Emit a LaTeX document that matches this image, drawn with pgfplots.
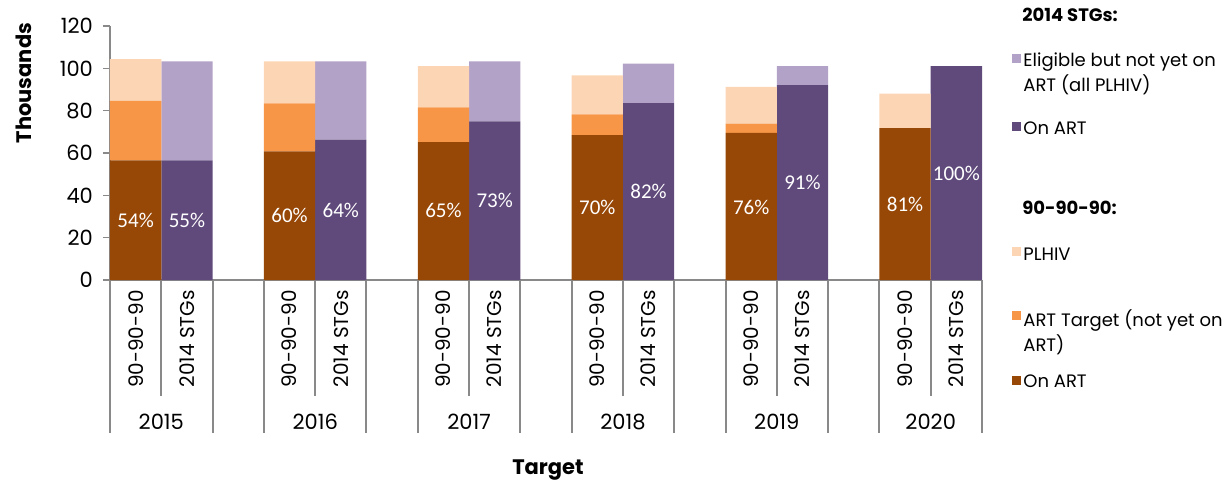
\documentclass[border=0pt]{standalone}
\usepackage{fontspec}
\setmainfont{Poppins}
\newfontfamily\pctfont{Carlito}
\usepackage{pgfplots}
\pgfplotsset{compat=1.18}
\usepackage{pgfplotstable}

\definecolor{onart90}{HTML}{974706}
\definecolor{tgt90}{HTML}{F79646}
\definecolor{plhiv90}{HTML}{FCD5B5}
\definecolor{onstg}{HTML}{604A7B}
\definecolor{eligstg}{HTML}{B3A2C7}
\definecolor{axisgray}{HTML}{898989}

\tikzset{
  pct/.style={text=white, font=\pctfont\fontsize{10.5}{12}\selectfont},
  sep/.style={axisgray, line width=1pt},
  sub/.style={rotate=90, anchor=east, inner sep=0pt, font=\fontsize{10}{12}\selectfont},
  yr/.style={font=\fontsize{10.5}{12}\selectfont},
  leg/.style={anchor=west, inner sep=0pt, align=left, font=\fontsize{9}{12.5}\selectfont},
  leghead/.style={anchor=west, inner sep=0pt, font=\bfseries\fontsize{9}{12}\selectfont},
}

% thousands; 90-90-90 bars at 0,3,...; 2014 STGs bars at 1,4,...
\pgfplotstableread{
x  on90 tgt90 plhiv90 onstg eligstg
0  56.5 28.1  19.7    0     0
1  0    0     0       56.5  46.8
3  60.8 22.7  19.8    0     0
4  0    0     0       66.3  37.0
6  65.1 16.4  19.6    0     0
7  0    0     0       75.0  28.3
9  68.5 9.8   18.4    0     0
10 0    0     0       83.6  18.6
12 69.5 4.4   17.4    0     0
13 0    0     0       92.1  9.0
15 71.7 0     16.3    0     0
16 0    0     0       101.1 0
}\datatable

\begin{document}
\begin{tikzpicture}
\useasboundingbox (-55pt,-106.5pt) rectangle (560pt,140pt);
\begin{axis}[
    at={(0,0)}, anchor=south west,
    scale only axis, width=436pt, height=127pt,
    ybar stacked, bar width=25.65pt,
    xmin=-0.5, xmax=16.5, ymin=0, ymax=120,
    ytick={0,20,...,120}, xtick=\empty,
    axis x line*=bottom, axis y line*=left,
    axis line style={axisgray, line width=1pt, -},
    tick style={axisgray, line width=0.8pt},
    tick align=outside, major tick length=3.5pt,
    yticklabel style={font=\fontsize{10.5}{12}\selectfont, xshift=-1.5pt},
    /pgf/number format/assume math mode=true,
    clip=false,
]
\addplot[fill=onart90, draw=none] table[x=x, y=on90] {\datatable};
\addplot[fill=tgt90, draw=none] table[x=x, y=tgt90] {\datatable};
\addplot[fill=plhiv90, draw=none] table[x=x, y=plhiv90] {\datatable};
\addplot[fill=onstg, draw=none] table[x=x, y=onstg] {\datatable};
\addplot[fill=eligstg, draw=none] table[x=x, y=eligstg] {\datatable};

% category frame under the axis
\draw[sep] (axis cs:-0.5,0) -- (axis cs:-0.5,-72.3);
\draw[sep] (axis cs:0.5,0) -- (axis cs:0.5,-54.8);
\draw[sep] (axis cs:1.5,0) -- (axis cs:1.5,-72.3);
\draw[sep] (axis cs:2.5,0) -- (axis cs:2.5,-72.3);
\draw[sep] (axis cs:3.5,0) -- (axis cs:3.5,-54.8);
\draw[sep] (axis cs:4.5,0) -- (axis cs:4.5,-72.3);
\draw[sep] (axis cs:5.5,0) -- (axis cs:5.5,-72.3);
\draw[sep] (axis cs:6.5,0) -- (axis cs:6.5,-54.8);
\draw[sep] (axis cs:7.5,0) -- (axis cs:7.5,-72.3);
\draw[sep] (axis cs:8.5,0) -- (axis cs:8.5,-72.3);
\draw[sep] (axis cs:9.5,0) -- (axis cs:9.5,-54.8);
\draw[sep] (axis cs:10.5,0) -- (axis cs:10.5,-72.3);
\draw[sep] (axis cs:11.5,0) -- (axis cs:11.5,-72.3);
\draw[sep] (axis cs:12.5,0) -- (axis cs:12.5,-54.8);
\draw[sep] (axis cs:13.5,0) -- (axis cs:13.5,-72.3);
\draw[sep] (axis cs:14.5,0) -- (axis cs:14.5,-72.3);
\draw[sep] (axis cs:15.5,0) -- (axis cs:15.5,-54.8);
\draw[sep] (axis cs:16.5,0) -- (axis cs:16.5,-72.3);

\node[sub] at (axis cs:0,-4.7) {90-90-90};
\node[sub] at (axis cs:1,-4.7) {2014 STGs};
\node[sub] at (axis cs:3,-4.7) {90-90-90};
\node[sub] at (axis cs:4,-4.7) {2014 STGs};
\node[sub] at (axis cs:6,-4.7) {90-90-90};
\node[sub] at (axis cs:7,-4.7) {2014 STGs};
\node[sub] at (axis cs:9,-4.7) {90-90-90};
\node[sub] at (axis cs:10,-4.7) {2014 STGs};
\node[sub] at (axis cs:12,-4.7) {90-90-90};
\node[sub] at (axis cs:13,-4.7) {2014 STGs};
\node[sub] at (axis cs:15,-4.7) {90-90-90};
\node[sub] at (axis cs:16,-4.7) {2014 STGs};

\node[yr] at (axis cs:0.5,-67.1) {2015};
\node[yr] at (axis cs:3.5,-67.1) {2016};
\node[yr] at (axis cs:6.5,-67.1) {2017};
\node[yr] at (axis cs:9.5,-67.1) {2018};
\node[yr] at (axis cs:12.5,-67.1) {2019};
\node[yr] at (axis cs:15.5,-67.1) {2020};

% anchor points for the percentage labels (drawn after the bars)
\coordinate (p1) at (axis cs:0,28);
\coordinate (p2) at (axis cs:1,28);
\coordinate (p3) at (axis cs:3,30.3);
\coordinate (p4) at (axis cs:4,32.7);
\coordinate (p5) at (axis cs:6,32.7);
\coordinate (p6) at (axis cs:7,37.6);
\coordinate (p7) at (axis cs:9,34.1);
\coordinate (p8) at (axis cs:10,41.8);
\coordinate (p9) at (axis cs:12,34.1);
\coordinate (p10) at (axis cs:13,46.1);
\coordinate (p11) at (axis cs:15,35.9);
\coordinate (p12) at (axis cs:16,50.3);
\end{axis}

\node[pct] at (p1) {54\%};
\node[pct] at (p2) {55\%};
\node[pct] at (p3) {60\%};
\node[pct] at (p4) {64\%};
\node[pct] at (p5) {65\%};
\node[pct] at (p6) {73\%};
\node[pct] at (p7) {70\%};
\node[pct] at (p8) {82\%};
\node[pct] at (p9) {76\%};
\node[pct] at (p10) {91\%};
\node[pct] at (p11) {81\%};
\node[pct] at (p12) {100\%};

% axis titles
\node[rotate=90, font=\bfseries\fontsize{10.5}{12}\selectfont] at (-43pt,98.5pt) {Thousands};
\node[font=\bfseries\fontsize{10.5}{12}\selectfont] at (219pt,-95pt) {Target};

% legend
\node[leghead] at (456pt,132.5pt) {2014 STGs:};
\fill[eligstg] (451pt,108.5pt) rectangle (455.5pt,113pt);
\node[leg, anchor=north west] at (456.5pt,114pt) {Eligible but not yet on\\ART (all PLHIV)};
\fill[onstg] (451pt,74.5pt) rectangle (455.5pt,79pt);
\node[leg] at (456.5pt,76pt) {On ART};
\node[leghead] at (456pt,36pt) {90-90-90:};
\fill[plhiv90] (451pt,12pt) rectangle (455.5pt,16.5pt);
\node[leg] at (456.5pt,13pt) {PLHIV};
\fill[tgt90] (451pt,-20pt) rectangle (455.5pt,-15.5pt);
\node[leg, anchor=north west] at (456.5pt,-14.5pt) {ART Target (not yet on\\ART)};
\fill[onart90] (451pt,-52.5pt) rectangle (455.5pt,-48pt);
\node[leg] at (456.5pt,-50.5pt) {On ART};
\end{tikzpicture}
\end{document}
